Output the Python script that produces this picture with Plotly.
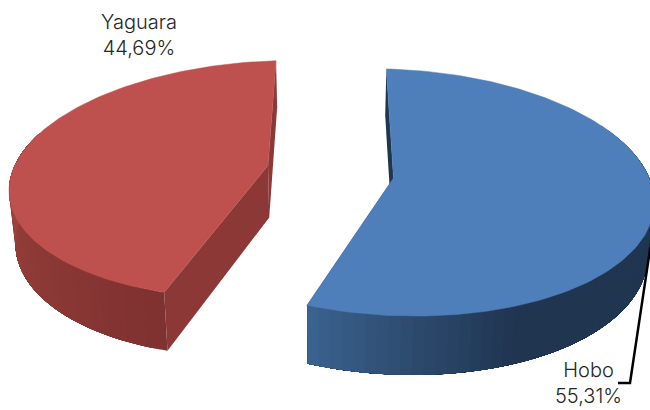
import numpy as np
import plotly.graph_objects as go

names = ["Hobo", "Yaguara"]
shares = [55.31, 44.69]

START_DEG = 0.0
SLICE_STYLE = {
    "Hobo": dict(ax=393.5, ay=178, rx=258, ry=121.8, p=0.117, sx=8, ty=6,
                 top="#4F7FBB", wall="#1F3550",
                 side_stops=[(60, "#1F3550"), (155, "#1F3550"), (175, "#2C496C"), (199.2, "#3C6592")]),
    "Yaguara": dict(ax=268, ay=165.5, rx=256, ry=117, p=0.117, sx=-9, ty=-7,
                    top="#BE504E", wall="#8C3836",
                    side_stops=[(199, "#7F3230"), (240, "#8F3B38"), (290, "#A84846")]),
}
DEPTH = 52
VP_X = 330
SHRINK = 0.98


def hex2rgb(h):
    return np.array([int(h[i:i + 2], 16) for i in (1, 3, 5)], dtype=float)


def side_color(stops, t):
    ts = [s[0] for s in stops]
    cs = np.array([hex2rgb(s[1]) for s in stops])
    rgb = [np.interp(t, ts, cs[:, k]) for k in range(3)]
    return "rgb(%d,%d,%d)" % tuple(rgb)


def project(st, t_deg, depth=0.0, radial=1.0):
    t = np.radians(t_deg)
    u, v = radial * np.sin(t), -radial * np.cos(t)
    s = 1.0 / (1.0 - st["p"] * v)
    x = st["ax"] + (st["rx"] * u + st["sx"] * v) * s
    y = st["ay"] + (st["ry"] * v + st["ty"] * u) * s
    if depth:
        x = VP_X + (x - VP_X) * SHRINK
        y = y + depth * s
    return x, y


def poly(xs, ys, color, lw=0.0):
    return go.Scatter(x=list(xs), y=list(ys), mode="lines", fill="toself",
                      fillcolor=color, line=dict(color=color, width=lw),
                      hoverinfo="skip", showlegend=False)


fig = go.Figure()
angle = START_DEG
for name, share in zip(names, shares):
    st = SLICE_STYLE[name]
    a0, a1 = angle, angle + share * 3.6
    angle = a1

    # cut walls
    for edge in (a0, a1):
        tx, ty = project(st, edge)
        bx, by = project(st, edge, DEPTH)
        ax_, ay_ = project(st, edge, 0, 0.0)
        cx, cy = project(st, edge, DEPTH, 0.0)
        fig.add_trace(poly([ax_, tx, bx, cx, ax_], [ay_, ty, by, cy, ay_], st["wall"]))

    # outer side: painted band over band, each one running to the far end
    lo = max(a0, st["side_stops"][0][0])
    hi = min(a1, st["side_stops"][-1][0])
    edges = np.linspace(lo, hi, 60)
    for e0 in edges[:-1]:
        ts = np.linspace(e0, hi, 60)
        tx, ty = project(st, ts)
        bx, by = project(st, ts, DEPTH)
        fig.add_trace(poly(np.r_[tx, bx[::-1], tx[0]], np.r_[ty, by[::-1], ty[0]],
                           side_color(st["side_stops"], e0)))

    # top face
    ts = np.linspace(a0, a1, 160)
    tx, ty = project(st, ts)
    ox, oy = project(st, a0, 0, 0.0)
    fig.add_trace(poly(np.r_[ox, tx, ox], np.r_[oy, ty, oy], st["top"], 0.5))

# leader line of the Hobo label
LEADER_X = [651, 630, 618]
LEADER_Y = [243, 383, 383]
fig.add_trace(go.Scatter(x=LEADER_X, y=LEADER_Y, mode="lines",
                         line=dict(color="#000000", width=2.5),
                         hoverinfo="skip", showlegend=False))

LABEL_POS = {"Hobo": (588, 383), "Yaguara": (139, 35)}
for name, share in zip(names, shares):
    lx, ly = LABEL_POS[name]
    text = f"{name}<br>{share:.2f}%".replace(".", ",")
    fig.add_annotation(x=lx, y=ly, text=text, showarrow=False, xref="x", yref="y",
                       font=dict(family="Inter", size=20, color="#262626", weight=300), align="center")

fig.update_layout(
    width=650, height=410, margin=dict(l=0, r=0, t=0, b=0),
    paper_bgcolor="white", plot_bgcolor="white",
    xaxis=dict(range=[0, 650], visible=False, fixedrange=True),
    yaxis=dict(range=[410, 0], visible=False, fixedrange=True),
)
fig.write_html("out.html", config={"displayModeBar": False},
               post_script="document.body.style.margin='0';document.documentElement.style.overflow='hidden';")
